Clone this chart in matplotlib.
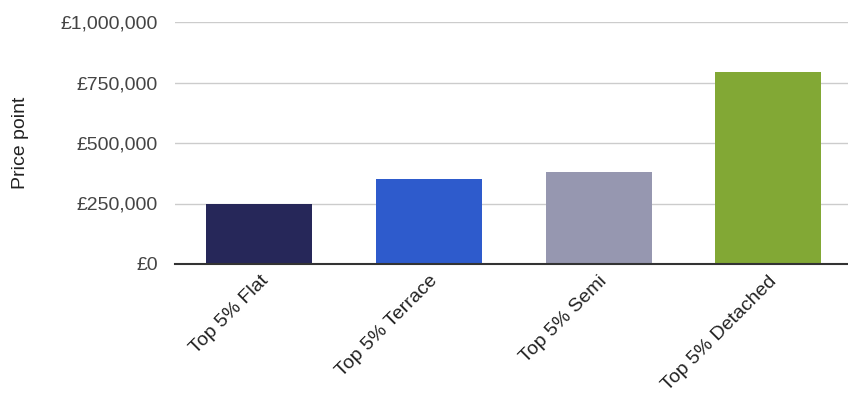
import matplotlib
matplotlib.use("Agg")
import matplotlib.pyplot as plt
from matplotlib.ticker import FuncFormatter

categories = ["Top 5% Flat", "Top 5% Terrace", "Top 5% Semi", "Top 5% Detached"]
values = [250000, 350000, 382000, 795000]
colors = ["#262759", "#2e5bcc", "#9697b0", "#82a835"]
yticks = [0, 250000, 500000, 750000, 1000000]

plt.rcParams['font.family'] = ['Liberation Sans', 'DejaVu Sans']

fig = plt.figure(figsize=(8.48, 4.0), dpi=100)
ax = fig.add_axes([0.206, 0.34, 0.80, 0.605])

x = range(len(categories))
ax.bar(x, values, width=0.625, color=colors, zorder=3)

ax.set_ylim(0, 1000000)
ax.set_xlim(-0.5, len(categories) - 0.5)
ax.set_yticks(yticks)
ax.yaxis.set_major_formatter(FuncFormatter(lambda v, p: "£{:,.0f}".format(v)))
ax.grid(axis='y', color='#cccccc', linewidth=1, zorder=0)
for s in ['top', 'right', 'left']:
    ax.spines[s].set_visible(False)
ax.spines['bottom'].set_color('#333333')
ax.spines['bottom'].set_linewidth(1.5)
ax.spines['bottom'].set_zorder(4)
ax.tick_params(axis='y', length=0, pad=12, labelsize=14, labelcolor='#444444')
ax.tick_params(axis='x', length=0, pad=6, labelsize=14, labelcolor='#222222')
ax.set_xticks(list(x))
ax.set_xticklabels(categories, rotation=45, ha='right', rotation_mode='anchor')
ax.set_ylabel("Price point", fontsize=14, color='#222222', labelpad=23)

fig.savefig("out.png", dpi=100)
